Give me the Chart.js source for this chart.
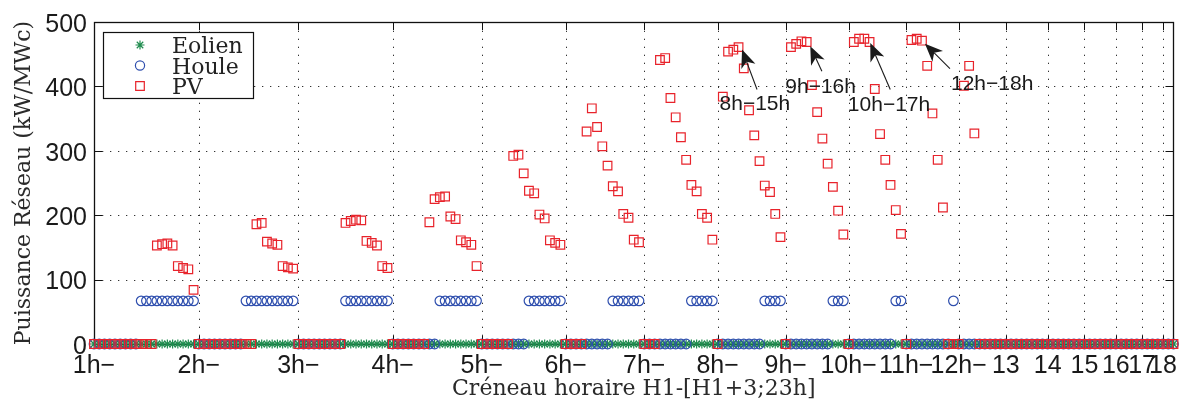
<!DOCTYPE html>
<html><head><meta charset="utf-8">
<script src="https://cdn.jsdelivr.net/npm/chart.js@4.4.0/dist/chart.umd.min.js"></script>
<style>html,body{margin:0;padding:0;background:#fff;}#wrap{width:1184px;height:407px;}</style>
</head><body><div id="wrap"><canvas id="c" width="1184" height="407"></canvas></div>
<script>
// Tick labels (one per starting hour group)
const groupLabels = ['1h−','2h−','3h−','4h−','5h−','6h−','7h−','8h−','9h−','10h−','11h−','12h−','13','14','15','16','17','18'];
const yTicks = [0,100,200,300,400,500];

// Eolien values per group
const eolien = [
 [0,0,0,0,0,0,0,0,0,0,0,0,0,0,0,0,0,0,0,0],
 [0,0,0,0,0,0,0,0,0,0,0,0,0,0,0,0,0,0,0],
 [0,0,0,0,0,0,0,0,0,0,0,0,0,0,0,0,0,0],
 [0,0,0,0,0,0,0,0,0,0,0,0,0,0,0,0,0],
 [0,0,0,0,0,0,0,0,0,0,0,0,0,0,0,0],
 [0,0,0,0,0,0,0,0,0,0,0,0,0,0,0],
 [0,0,0,0,0,0,0,0,0,0,0,0,0,0],
 [0,0,0,0,0,0,0,0,0,0,0,0,0],
 [0,0,0,0,0,0,0,0,0,0,0,0],
 [0,0,0,0,0,0,0,0,0,0,0],
 [0,0,0,0,0,0,0,0,0,0],
 [0,0,0,0,0,0,0,0,0],
 [0,0,0,0,0,0,0,0],
 [0,0,0,0,0,0,0],
 [0,0,0,0,0,0],
 [0,0,0,0,0],
 [0,0,0,0],
 [0,0,0]
];
// Houle values per group
const houle = [
 [0,0,0,0,0,0,0,0,0,67,67,67,67,67,67,67,67,67,67,67],
 [0,0,0,0,0,0,0,0,0,67,67,67,67,67,67,67,67,67,67],
 [0,0,0,0,0,0,0,0,0,67,67,67,67,67,67,67,67,67],
 [0,0,0,0,0,0,0,0,0,67,67,67,67,67,67,67,67],
 [0,0,0,0,0,0,0,0,0,67,67,67,67,67,67,67],
 [0,0,0,0,0,0,0,0,0,67,67,67,67,67,67],
 [0,0,0,0,0,0,0,0,0,67,67,67,67,67],
 [0,0,0,0,0,0,0,0,0,67,67,67,67],
 [0,0,0,0,0,0,0,0,0,67,67,67],
 [0,0,0,0,0,0,0,0,0,67,67],
 [0,0,0,0,0,0,0,0,0,67],
 [0,0,0,0,0,0,0,0,0],
 [0,0,0,0,0,0,0,0],
 [0,0,0,0,0,0,0],
 [0,0,0,0,0,0],
 [0,0,0,0,0],
 [0,0,0,0],
 [0,0,0]
];
// PV values per group
const pv = [
 [0,0,0,0,0,0,0,0,0,0,0,0,153,155,156,153,121,118,116,84],
 [0,0,0,0,0,0,0,0,0,0,0,186,188,159,156,154,121,119,117],
 [0,0,0,0,0,0,0,0,0,188,191,193,192,160,157,153,121,118],
 [0,0,0,0,0,0,0,189,225,228,229,198,194,161,158,154,121],
 [0,0,0,0,0,0,292,294,265,238,234,201,195,161,157,154],
 [0,0,0,0,330,366,337,307,277,245,237,202,196,162,158],
 [0,0,0,441,444,382,352,321,286,247,237,202,196,162],
 [0,384,454,457,461,428,363,324,284,246,236,202,166],
 [0,461,466,470,469,402,360,319,280,244,207,170],
 [0,469,474,474,469,396,326,286,247,208,171],
 [0,472,474,471,432,358,286,212,0,0],
 [0,401,432,327,0,0,0,0,0],
 [0,0,0,0,0,0,0,0],
 [0,0,0,0,0,0,0],
 [0,0,0,0,0,0],
 [0,0,0,0,0],
 [0,0,0,0],
 [0,0,0]
];
// Annotations: label, group, position inside group
const notes = [
 {text:'8h−15h', group:7, item:4},
 {text:'9h−16h', group:8, item:4},
 {text:'10h−17h', group:9, item:4},
 {text:'12h−18h', group:10, item:3}
];

// ---- build points ----
const groupStart = [];
function toPoints(groups){
  const pts=[]; let idx=1;
  groups.forEach((g,gi)=>{ groupStart[gi]=idx; g.forEach(v=>{pts.push({x:idx,y:v}); idx++;}); });
  return pts;
}
const eolPts = toPoints(eolien);
const houPts = toPoints(houle);
const pvPts = toPoints(pv);
const nTotal = pvPts.length;

const GREEN='#1f8c4e', BLUE='#2f4fae', RED='#e8232b';
const noteStyle = [
 {tip:[3.5,2.4], tail:[18.5,42.4], txt:[-19,62.4]},
 {tip:[3.6,4.3], tail:[15.2,29.3], txt:[-21.4,50.6]},
 {tip:[0.7,1.0], tail:[20.7,47.6], txt:[-21.7,68.6]},
 {tip:[3,3], tail:[28,27.9], txt:[29,49.6]}
];

const sansFont = "'Liberation Sans', Arial, sans-serif";
const serifFont = "'DejaVu Serif', serif";

const framePlugin = {
  id:'frame',
  beforeDatasetsDraw(chart){
    const {ctx, chartArea:a, scales:{x,y}} = chart;
    ctx.save();
    ctx.lineWidth=1;
    ctx.strokeStyle='#333';
    ctx.setLineDash([1.3,6.7]);
    x.ticks.forEach(t=>{
      const px=Math.round(x.getPixelForValue(t.value))+0.5;
      if(px<=a.left+2||px>=a.right-2) return;
      ctx.beginPath(); ctx.moveTo(px,a.bottom); ctx.lineTo(px,a.top); ctx.stroke();
    });
    y.ticks.forEach(t=>{
      const py=Math.round(y.getPixelForValue(t.value))+0.5;
      if(py>=a.bottom-2||py<=a.top+2) return;
      ctx.beginPath(); ctx.moveTo(a.left,py); ctx.lineTo(a.right,py); ctx.stroke();
    });
    ctx.setLineDash([]);
    ctx.strokeStyle='#111';
    ctx.lineWidth=1.3;
    ctx.strokeRect(Math.round(a.left)+0.5, Math.round(a.top)+0.5, Math.round(a.right)-Math.round(a.left), Math.round(a.bottom)-Math.round(a.top));
    const L=8;
    ctx.lineWidth=1;
    ctx.beginPath();
    x.ticks.forEach(t=>{
      const px=Math.round(x.getPixelForValue(t.value))+0.5;
      ctx.moveTo(px,a.bottom); ctx.lineTo(px,a.bottom-L);
      ctx.moveTo(px,a.top); ctx.lineTo(px,a.top+L);
    });
    y.ticks.forEach(t=>{
      const py=Math.round(y.getPixelForValue(t.value))+0.5;
      ctx.moveTo(a.left,py); ctx.lineTo(a.left+L,py);
      ctx.moveTo(a.right,py); ctx.lineTo(a.right-L,py);
    });
    ctx.stroke();
    ctx.restore();
  },
  afterDraw(chart){
    const {ctx, chartArea:a, scales:{x,y}} = chart;
    ctx.save();
    // legend
    const bx=a.left+9, by=a.top+10, bw=150, bh=66;
    ctx.fillStyle='#fff'; ctx.fillRect(bx,by,bw,bh);
    ctx.strokeStyle='#111'; ctx.lineWidth=1.2;
    ctx.strokeRect(Math.round(bx)+0.5,Math.round(by)+0.5,bw,bh);
    const items=[{t:'Eolien',s:'star',c:GREEN},{t:'Houle',s:'circle',c:BLUE},{t:'PV',s:'rect',c:RED}];
    ctx.font='22px '+serifFont; ctx.textBaseline='alphabetic'; ctx.textAlign='left';
    items.forEach((it,i)=>{
      const my=by+13+i*20.5, mx=bx+37;
      ctx.strokeStyle=it.c; ctx.lineWidth=1.2;
      ctx.beginPath();
      if(it.s==='star'){
        const r=4.5;
        ctx.moveTo(mx-r,my);ctx.lineTo(mx+r,my);ctx.moveTo(mx,my-r);ctx.lineTo(mx,my+r);
        const d=r*0.72;
        ctx.moveTo(mx-d,my-d);ctx.lineTo(mx+d,my+d);ctx.moveTo(mx-d,my+d);ctx.lineTo(mx+d,my-d);
      } else if(it.s==='circle'){
        ctx.arc(mx,my,4.6,0,Math.PI*2);
      } else {
        ctx.rect(mx-4.3,my-4.3,8.6,8.6);
      }
      ctx.stroke();
      ctx.fillStyle='#222';
      ctx.fillText(it.t,bx+69,my+8);
    });
    // annotations
    ctx.fillStyle='#1a1a1a'; ctx.strokeStyle='#1a1a1a';
    ctx.font='21px '+sansFont;
    notes.forEach((n,i)=>{
      const idx=groupStart[n.group]+n.item;
      const val=pv[n.group][n.item];
      const px=x.getPixelForValue(idx), py=y.getPixelForValue(val);
      const st=noteStyle[i];
      const tx=px+st.tip[0], ty=py+st.tip[1];
      const sx=px+st.tail[0], sy=py+st.tail[1];
      const dx=tx-sx, dy=ty-sy, len=Math.hypot(dx,dy), ux=dx/len, uy=dy/len, nx=-uy, ny=ux;
      const HL=18, HW=7.5, NT=5;
      ctx.lineWidth=1.1;
      ctx.beginPath(); ctx.moveTo(sx,sy); ctx.lineTo(tx-ux*(HL-NT),ty-uy*(HL-NT)); ctx.stroke();
      ctx.beginPath();
      ctx.moveTo(tx,ty);
      ctx.lineTo(tx-ux*HL+nx*HW, ty-uy*HL+ny*HW);
      ctx.lineTo(tx-ux*(HL-NT), ty-uy*(HL-NT));
      ctx.lineTo(tx-ux*HL-nx*HW, ty-uy*HL-ny*HW);
      ctx.closePath(); ctx.fill();
      ctx.fillText(n.text, px+st.txt[0], py+st.txt[1]);
    });
    ctx.restore();
  }
};

new Chart(document.getElementById('c'), {
  type:'scatter',
  data:{datasets:[
    {label:'Eolien', data:eolPts, pointStyle:'star', pointRadius:4.6, borderColor:GREEN, backgroundColor:GREEN, borderWidth:1.2, order:3, clip:false},
    {label:'Houle', data:houPts, pointStyle:'circle', pointRadius:4.8, borderColor:BLUE, backgroundColor:'rgba(0,0,0,0)', borderWidth:1.2, order:2, clip:false},
    {label:'PV', data:pvPts, pointStyle:'rect', pointRadius:6.1, borderColor:RED, backgroundColor:'rgba(0,0,0,0)', borderWidth:1.2, order:1, clip:false}
  ]},
  options:{
    responsive:false, animation:false, devicePixelRatio:1,
    layout:{padding:{top:17,right:8,left:0,bottom:0}},
    plugins:{legend:{display:false}, tooltip:{enabled:false}},
    elements:{point:{hoverRadius:0}},
    scales:{
      x:{type:'linear', min:1, max:nTotal,
        afterBuildTicks:(s)=>{ s.ticks = groupStart.map(v=>({value:v})); },
        afterFit:(s)=>{ s.height=63; },
        grid:{display:false, drawTicks:false}, border:{display:false},
        ticks:{autoSkip:false, maxRotation:0, minRotation:0, padding:7, color:'#1a1a1a',
          font:{family:sansFont, size:25},
          callback:(v,i)=>groupLabels[i]},
        title:{display:true, text:'Créneau horaire H1-[H1+3;23h]', color:'#2a2a2a',
          font:{family:serifFont, size:22}, padding:{top:0,bottom:5}}
      },
      y:{type:'linear', min:0, max:500,
        afterBuildTicks:(s)=>{ s.ticks = yTicks.map(v=>({value:v})); },
        afterFit:(s)=>{ s.width=94; },
        grid:{display:false, drawTicks:false}, border:{display:false},
        ticks:{padding:7, color:'#1a1a1a', labelOffset:3, font:{family:sansFont, size:25}},
        title:{display:true, text:'Puissance Réseau (kW/MWc)', color:'#2a2a2a',
          font:{family:serifFont, size:22}, padding:{top:11,bottom:0}}
      }
    }
  },
  plugins:[framePlugin]
});
</script></body></html>
